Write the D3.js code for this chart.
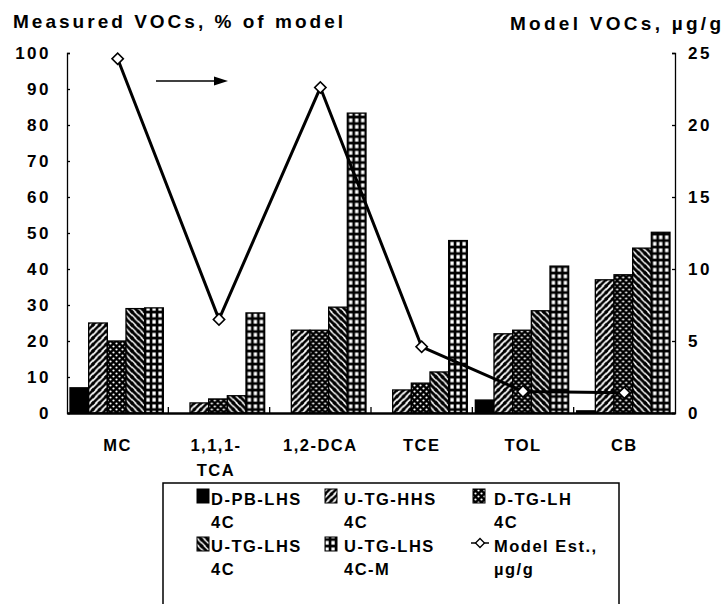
<!DOCTYPE html>
<html>
<head>
<meta charset="utf-8">
<script src="https://cdn.jsdelivr.net/npm/d3@7"></script>
<style>
  body { margin: 0; background: #fff; }
  svg { font-family: "Liberation Sans", Arial, sans-serif; font-weight: bold; }
</style>
</head>
<body>
<svg id="chart" width="724" height="604"></svg>
<script>
// DATA
const categories = ["MC", "1,1,1-TCA", "1,2-DCA", "TCE", "TOL", "CB"];
const categoryLabels = [["MC"], ["1,1,1-", "TCA"], ["1,2-DCA"], ["TCE"], ["TOL"], ["CB"]];
const seriesNames = ["D-PB-LHS 4C", "U-TG-HHS 4C", "D-TG-LH 4C", "U-TG-LHS 4C", "U-TG-LHS 4C-M"];
const dPbLhs   = [7, 0, 0, 0, 3.6, 0.6];
const uTgHhs   = [25, 2.8, 23, 6.4, 22, 37];
const dTgLh    = [20, 3.9, 23, 8.3, 23, 38.4];
const uTgLhs   = [29, 4.8, 29.4, 11.4, 28.4, 45.8];
const uTgLhsM  = [29.2, 27.8, 83.3, 47.9, 40.8, 50.2];
const modelEst = [24.6, 6.5, 22.6, 4.6, 1.5, 1.4];
const leftTicks = [0, 10, 20, 30, 40, 50, 60, 70, 80, 90, 100];
const rightTicks = [0, 5, 10, 15, 20, 25];
const legendLabels = [["D-PB-LHS", "4C"], ["U-TG-HHS", "4C"], ["D-TG-LH", "4C"],
                      ["U-TG-LHS", "4C"], ["U-TG-LHS", "4C-M"], ["Model Est.,", "µg/g"]];

const seriesValues = [dPbLhs, uTgHhs, dTgLh, uTgLhs, uTgLhsM];
const patternIds = ["solid", "hhs", "dtg", "lhs", "grid"];

const svg = d3.select("#chart");

// PATTERNS
const defs = svg.append("defs");
let p = defs.append("pattern").attr("id", "hhs").attr("patternUnits", "userSpaceOnUse")
  .attr("width", 6.5).attr("height", 6.5);
p.append("rect").attr("width", 6.5).attr("height", 6.5).attr("fill", "#fff");
p.append("path").attr("d", "M-1,1.5 L1.5,-1 M0,6.5 L6.5,0 M5,7.5 L7.5,5")
  .attr("stroke", "#000").attr("stroke-width", 2.5);

p = defs.append("pattern").attr("id", "lhs").attr("patternUnits", "userSpaceOnUse")
  .attr("width", 6.5).attr("height", 6.5);
p.append("rect").attr("width", 6.5).attr("height", 6.5).attr("fill", "#fff");
p.append("path").attr("d", "M-1,5 L1.5,7.5 M0,0 L6.5,6.5 M5,-1 L7.5,1.5")
  .attr("stroke", "#000").attr("stroke-width", 2.8);

p = defs.append("pattern").attr("id", "dtg").attr("patternUnits", "userSpaceOnUse")
  .attr("width", 6).attr("height", 6);
p.append("rect").attr("width", 6).attr("height", 6).attr("fill", "#000");
p.append("circle").attr("cx", 1.5).attr("cy", 1.5).attr("r", 1.1).attr("fill", "#fff");
p.append("circle").attr("cx", 4.5).attr("cy", 4.5).attr("r", 1.1).attr("fill", "#fff");

p = defs.append("pattern").attr("id", "grid").attr("patternUnits", "userSpaceOnUse")
  .attr("width", 6).attr("height", 6.5);
p.append("rect").attr("width", 6).attr("height", 6.5).attr("fill", "#000");
p.append("rect").attr("x", 1.4).attr("y", 1.4).attr("width", 3.3).attr("height", 3.8).attr("fill", "#fff");

function fillFor(i) { return i === 0 ? "#000" : `url(#${patternIds[i]})`; }

// SCALES
const x = d3.scaleBand().domain(categories).range([67, 675]);
const xSub = d3.scaleBand().domain(seriesNames).range([3, x.bandwidth() - 5]);
const yL = d3.scaleLinear().domain([0, 100]).range([413, 53]);
const yR = d3.scaleLinear().domain([0, 25]).range([413, 53]);

// BARS
const groups = svg.append("g").selectAll("g")
  .data(categories).enter().append("g")
  .attr("transform", d => `translate(${x(d)},0)`);

groups.selectAll("rect")
  .data((c, ci) => seriesNames.map((s, si) => ({ s, si, v: seriesValues[si][ci] })))
  .enter().filter(d => d.v > 0).append("rect")
  .attr("x", d => xSub(d.s))
  .attr("y", d => yL(d.v))
  .attr("width", xSub.bandwidth())
  .attr("height", d => yL(0) - yL(d.v))
  .attr("fill", d => fillFor(d.si))
  .attr("stroke", "#000")
  .attr("stroke-width", 1.3);

// AXES
const axL = svg.append("g").attr("transform", "translate(67,0)")
  .call(d3.axisLeft(yL).tickValues(leftTicks).tickSize(-3).tickPadding(16));
const axR = svg.append("g").attr("transform", "translate(675,0)")
  .call(d3.axisRight(yR).tickValues(rightTicks).tickSize(-3).tickPadding(13));
[axL, axR].forEach(a => {
  a.selectAll("path, line").attr("stroke", "#000").attr("stroke-width", 1.3);
  a.selectAll("text").attr("font-size", 17).attr("font-weight", "bold")
    .attr("font-family", "'Liberation Sans', Arial, sans-serif")
    .attr("letter-spacing", 2.5).attr("fill", "#000");
});

const axB = svg.append("g").attr("transform", "translate(0,413)")
  .call(d3.axisBottom(x).tickSize(0).tickFormat(""));
axB.select(".domain").attr("stroke", "#000").attr("stroke-width", 2.4);
axB.selectAll(".sep").data(categories.slice(1)).enter().append("line")
  .attr("x1", d => x(d)).attr("x2", d => x(d))
  .attr("y1", 0).attr("y2", -6).attr("stroke", "#000").attr("stroke-width", 1.3);

// category labels
svg.append("g").selectAll("text").data(categories).enter().append("text")
  .attr("x", d => x(d) + x.bandwidth() / 2)
  .attr("y", 451)
  .attr("text-anchor", "middle")
  .attr("font-size", 16.5)
  .attr("letter-spacing", 1.5)
  .each(function(d, i) {
    d3.select(this).selectAll("tspan").data(categoryLabels[i]).enter().append("tspan")
      .attr("x", x(d) + x.bandwidth() / 2 - (i === 1 ? 3 : 0))
      .attr("dy", (t, j) => j === 0 ? 0 : 25)
      .text(t => t);
  });

// MODEL LINE
const line = d3.line()
  .x((v, i) => x(categories[i]) + x.bandwidth() / 2)
  .y(v => yR(v));
svg.append("path").datum(modelEst)
  .attr("d", line).attr("fill", "none")
  .attr("stroke", "#000").attr("stroke-width", 3).attr("stroke-linejoin", "round");

const diamond = d3.symbol(d3.symbolSquare, 64);
svg.append("g").selectAll("path").data(modelEst).enter().append("path")
  .attr("d", diamond)
  .attr("transform", (v, i) => `translate(${x(categories[i]) + x.bandwidth() / 2},${yR(v)}) rotate(45)`)
  .attr("fill", "#fff").attr("stroke", "#000").attr("stroke-width", 1.6);

// arrow pointing to the right axis
svg.append("line").attr("x1", 156).attr("x2", 216).attr("y1", 81).attr("y2", 81)
  .attr("stroke", "#000").attr("stroke-width", 1.6);
svg.append("path").attr("d", "M214,76.5 L228,81 L214,85.5 Z").attr("fill", "#000");

// TITLES
svg.append("text").attr("x", 13).attr("y", 28).attr("font-size", 19)
  .attr("textLength", 330).attr("lengthAdjust", "spacing")
  .text("Measured VOCs, % of model");
svg.append("text").attr("x", 510).attr("y", 30).attr("font-size", 19)
  .attr("textLength", 211).attr("lengthAdjust", "spacing")
  .text("Model VOCs, µg/g");

// LEGEND
const legend = svg.append("g");
legend.append("rect").attr("x", 163).attr("y", 483).attr("width", 456).attr("height", 130)
  .attr("fill", "none").attr("stroke", "#000").attr("stroke-width", 1.5);

const colSwatch = [197, 325, 473];
const colText = [211, 344, 494];
const rowTop = [489, 537];
const rowBase = [505, 552];

legendLabels.forEach((lab, i) => {
  const col = i % 3, row = Math.floor(i / 3);
  const g = legend.append("g");
  if (i < 5) {
    g.append("rect").attr("x", colSwatch[col]).attr("y", rowTop[row])
      .attr("width", 12).attr("height", 14)
      .attr("fill", fillFor(i)).attr("stroke", "#000").attr("stroke-width", 1);
  } else {
    const cy = rowTop[row] + 6;
    g.append("line").attr("x1", colSwatch[col] - 2).attr("x2", colSwatch[col] + 16)
      .attr("y1", cy).attr("y2", cy).attr("stroke", "#000").attr("stroke-width", 1.5);
    g.append("path").attr("d", d3.symbol(d3.symbolSquare, 40))
      .attr("transform", `translate(${colSwatch[col] + 7},${cy}) rotate(45)`)
      .attr("fill", "#fff").attr("stroke", "#000").attr("stroke-width", 1.3);
  }
  const t = g.append("text").attr("x", colText[col]).attr("y", rowBase[row])
    .attr("font-size", 16.5).attr("letter-spacing", 1.5);
  t.selectAll("tspan").data(lab).enter().append("tspan")
    .attr("x", colText[col]).attr("dy", (s, j) => j === 0 ? 0 : 22.5)
    .text(s => s);
});
</script>
</body>
</html>
